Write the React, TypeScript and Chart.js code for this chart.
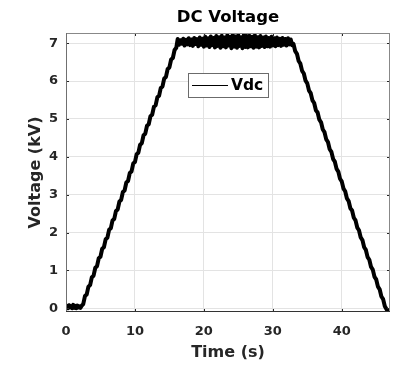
import { useEffect, useRef } from 'react';
import { Chart, registerables } from 'chart.js';

Chart.register(...registerables);

const xTicks = [0, 10, 20, 30, 40];
const yTicks = [0, 1, 2, 3, 4, 5, 6, 7];

const startTimes = [0, 0.15, 0.3, 0.45, 0.6, 0.75, 0.9, 1.05, 1.2, 1.35, 1.5, 1.65, 1.8, 1.95, 2.1];
const startVdc = [0.01, 0.06, 0.0, 0.08, 0.02, 0.05, 0.0, 0.09, 0.01, 0.06, 0.0, 0.07, 0.02, 0.05, 0.01];

const riseTimes = [2.25, 2.5, 2.75, 3, 3.25, 3.5, 3.75, 4, 4.25, 4.5, 4.75, 5, 5.25, 5.5, 5.75, 6, 6.25, 6.5, 6.75, 7, 7.25, 7.5, 7.75, 8, 8.25, 8.5, 8.75, 9, 9.25, 9.5, 9.75, 10, 10.25, 10.5, 10.75, 11, 11.25, 11.5, 11.75, 12, 12.25, 12.5, 12.75, 13, 13.25, 13.5, 13.75, 14, 14.25, 14.5, 14.75, 15, 15.25, 15.5, 15.75, 16];
const riseVdc = [0.06, 0.11, 0.32, 0.36, 0.57, 0.61, 0.82, 0.86, 1.07, 1.11, 1.32, 1.36, 1.57, 1.61, 1.82, 1.86, 2.07, 2.11, 2.32, 2.36, 2.57, 2.61, 2.82, 2.86, 3.07, 3.11, 3.32, 3.36, 3.57, 3.61, 3.82, 3.86, 4.07, 4.11, 4.32, 4.36, 4.57, 4.61, 4.82, 4.86, 5.07, 5.11, 5.32, 5.36, 5.57, 5.61, 5.82, 5.86, 6.07, 6.11, 6.32, 6.36, 6.57, 6.61, 6.82, 6.88];

const topTimes = [16.2, 16.4, 16.6, 16.8, 17, 17.2, 17.4, 17.6, 17.8, 18, 18.2, 18.4, 18.6, 18.8, 19, 19.2, 19.4, 19.6, 19.8, 20, 20.2, 20.4, 20.6, 20.8, 21, 21.2, 21.4, 21.6, 21.8, 22, 22.2, 22.4, 22.6, 22.8, 23, 23.2, 23.4, 23.6, 23.8, 24, 24.2, 24.4, 24.6, 24.8, 25, 25.2, 25.4, 25.6, 25.8, 26, 26.2, 26.4, 26.6, 26.8, 27, 27.2, 27.4, 27.6, 27.8, 28, 28.2, 28.4, 28.6, 28.8, 29, 29.2, 29.4, 29.6, 29.8, 30, 30.2, 30.4, 30.6, 30.8, 31, 31.2, 31.4, 31.6, 31.8, 32, 32.2, 32.4, 32.6, 32.8];
const topVdc = [7.11, 6.96, 7.08, 6.99, 7.12, 6.94, 7.09, 6.97, 7.13, 6.95, 7.1, 6.93, 7.14, 6.98, 7.11, 6.92, 7.15, 6.96, 7.12, 6.91, 7.17, 6.94, 7.13, 6.9, 7.18, 6.95, 7.14, 6.89, 7.19, 6.93, 7.16, 6.88, 7.2, 6.92, 7.15, 6.89, 7.21, 6.94, 7.17, 6.87, 7.22, 6.91, 7.18, 6.88, 7.21, 6.93, 7.16, 6.87, 7.22, 6.9, 7.19, 6.89, 7.2, 6.92, 7.17, 6.88, 7.21, 6.91, 7.16, 6.89, 7.19, 6.93, 7.15, 6.9, 7.18, 6.92, 7.14, 6.91, 7.17, 6.94, 7.13, 6.92, 7.15, 6.95, 7.12, 6.93, 7.14, 6.96, 7.11, 6.94, 7.13, 6.97, 7.1, 6.95];

const fallTimes = [33, 33.25, 33.5, 33.75, 34, 34.25, 34.5, 34.75, 35, 35.25, 35.5, 35.75, 36, 36.25, 36.5, 36.75, 37, 37.25, 37.5, 37.75, 38, 38.25, 38.5, 38.75, 39, 39.25, 39.5, 39.75, 40, 40.25, 40.5, 40.75, 41, 41.25, 41.5, 41.75, 42, 42.25, 42.5, 42.75, 43, 43.25, 43.5, 43.75, 44, 44.25, 44.5, 44.75, 45, 45.25, 45.5, 45.75, 46, 46.25, 46.5, 46.7];
const fallVdc = [6.98, 6.79, 6.72, 6.53, 6.46, 6.27, 6.2, 6.01, 5.94, 5.75, 5.68, 5.49, 5.42, 5.23, 5.17, 4.98, 4.91, 4.72, 4.65, 4.46, 4.39, 4.2, 4.13, 3.94, 3.87, 3.68, 3.61, 3.42, 3.35, 3.16, 3.09, 2.9, 2.83, 2.64, 2.58, 2.39, 2.32, 2.13, 2.06, 1.87, 1.8, 1.61, 1.54, 1.35, 1.28, 1.09, 1.02, 0.83, 0.76, 0.57, 0.5, 0.31, 0.24, 0.05, -0.03, -0.07];

const legendLabel = 'Vdc';
const FONT = '"DejaVu Sans", "Liberation Sans", Arial, sans-serif';
const AXIS_COLOR = '#262626';

const framePlugin = {
  id: 'matlabFrame',
  afterDatasetsDraw(chart: any) {
    const { ctx, chartArea: a, scales } = chart;
    ctx.save();
    ctx.lineWidth = 1;
    ctx.strokeStyle = AXIS_COLOR;
    ctx.beginPath();
    for (const v of xTicks) {
      const px = Math.round(scales.x.getPixelForValue(v)) + 0.5;
      ctx.moveTo(px, a.bottom);
      ctx.lineTo(px, a.bottom - 3);
      ctx.moveTo(px, a.top);
      ctx.lineTo(px, a.top + 3);
    }
    for (const v of yTicks) {
      const py = Math.round(scales.y.getPixelForValue(v)) + 0.5;
      ctx.moveTo(a.left, py);
      ctx.lineTo(a.left + 3, py);
      ctx.moveTo(a.right, py);
      ctx.lineTo(a.right - 3, py);
    }
    ctx.stroke();
    ctx.strokeStyle = '#888888';
    ctx.beginPath();
    ctx.moveTo(a.left, a.top + 0.5);
    ctx.lineTo(a.right, a.top + 0.5);
    ctx.moveTo(a.right - 0.5, a.top);
    ctx.lineTo(a.right - 0.5, a.bottom);
    ctx.stroke();
    ctx.strokeStyle = '#707070';
    ctx.beginPath();
    ctx.moveTo(a.left + 0.5, a.top);
    ctx.lineTo(a.left + 0.5, a.bottom);
    ctx.stroke();
    ctx.strokeStyle = '#333333';
    ctx.beginPath();
    ctx.moveTo(a.left, a.bottom - 0.5);
    ctx.lineTo(a.right, a.bottom - 0.5);
    ctx.stroke();
    ctx.restore();
  },
};

const legendPlugin = {
  id: 'insideLegend',
  afterDraw(chart: any) {
    const { ctx } = chart;
    ctx.save();
    ctx.fillStyle = '#ffffff';
    ctx.fillRect(188, 73, 81, 25);
    ctx.strokeStyle = '#6b6b6b';
    ctx.lineWidth = 1;
    ctx.strokeRect(188.5, 73.5, 80, 24);
    ctx.strokeStyle = '#000000';
    ctx.beginPath();
    ctx.moveTo(192, 85.5);
    ctx.lineTo(228, 85.5);
    ctx.stroke();
    ctx.fillStyle = '#000000';
    ctx.font = `bold 15.5px ${FONT}`;
    ctx.textBaseline = 'middle';
    ctx.textAlign = 'left';
    ctx.fillText(legendLabel, 231, 86);
    ctx.restore();
  },
};

export default function App() {
  const ref = useRef<HTMLCanvasElement | null>(null);

  useEffect(() => {
    if (!ref.current) return;
    const times = [...startTimes, ...riseTimes, ...topTimes, ...fallTimes];
    const vdc = [...startVdc, ...riseVdc, ...topVdc, ...fallVdc];
    const points = times.map((t, i) => ({ x: t, y: vdc[i] }));

    const chart = new Chart(ref.current, {
      type: 'line',
      data: {
        datasets: [
          {
            label: legendLabel,
            data: points,
            borderColor: '#000000',
            borderWidth: 4,
            borderJoinStyle: 'round',
            borderCapStyle: 'round',
            pointRadius: 0,
            tension: 0,
            fill: false,
          },
        ],
      },
      options: {
        animation: false,
        responsive: false,
        devicePixelRatio: 1,
        layout: { padding: { top: 0, right: 16, left: 0, bottom: 0 } },
        plugins: {
          legend: { display: false },
          tooltip: { enabled: false },
          title: {
            display: true,
            text: 'DC Voltage',
            fullSize: false,
            color: '#000000',
            font: { family: FONT, size: 16.5, weight: 'bold' },
            padding: { top: 8, bottom: 5.2 },
          },
        },
        scales: {
          x: {
            type: 'linear',
            min: 0,
            max: 47,
            afterBuildTicks: (s: any) => {
              s.ticks = xTicks.map((v) => ({ value: v }));
            },
            afterFit: (s: any) => {
              s.height = 55;
            },
            ticks: {
              padding: 12,
              color: AXIS_COLOR,
              font: { family: FONT, size: 13, weight: 'bold' },
              callback: (v: any) => String(v),
            },
            grid: { color: '#e3e3e3', drawTicks: false },
            border: { display: false },
            title: {
              display: true,
              text: 'Time (s)',
              color: AXIS_COLOR,
              font: { family: FONT, size: 16, weight: 'bold' },
              padding: { top: 0, bottom: 4.5 },
            },
          },
          y: {
            type: 'linear',
            min: -0.1,
            max: 7.27,
            afterBuildTicks: (s: any) => {
              s.ticks = yTicks.map((v) => ({ value: v }));
            },
            afterFit: (s: any) => {
              s.width = 66;
            },
            ticks: {
              padding: 8,
              color: AXIS_COLOR,
              font: { family: FONT, size: 13, weight: 'bold' },
              callback: (v: any) => String(v),
            },
            grid: { color: '#e3e3e3', drawTicks: false },
            border: { display: false },
            title: {
              display: true,
              text: 'Voltage (kV)',
              color: AXIS_COLOR,
              font: { family: FONT, size: 16, weight: 'bold' },
              padding: { top: 26, bottom: 0 },
            },
          },
        },
      },
      plugins: [framePlugin, legendPlugin],
    });
    return () => chart.destroy();
  }, []);

  return (
    <div style={{ position: 'absolute', left: 0, top: 0, width: 406, height: 367, background: '#ffffff' }}>
      <canvas ref={ref} width={406} height={367} style={{ display: 'block' }} />
    </div>
  );
}
